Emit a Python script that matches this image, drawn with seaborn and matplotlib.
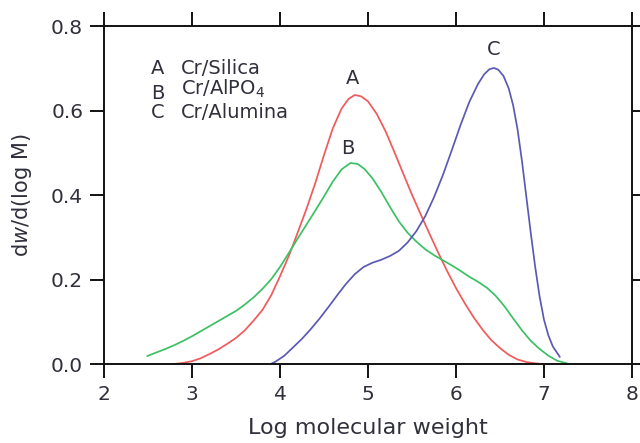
import matplotlib
matplotlib.use("Agg")
import matplotlib.pyplot as plt
import seaborn as sns
import pandas as pd

# ---- data ----
x_a = [2.78, 2.9, 3.0, 3.1, 3.2, 3.3, 3.4, 3.5, 3.6, 3.7, 3.8, 3.9, 4.0, 4.1, 4.15,
       4.2, 4.3, 4.4, 4.5, 4.6, 4.7, 4.78, 4.85, 4.92, 5.0, 5.1, 5.2, 5.3, 5.4, 5.5,
       5.6, 5.7, 5.8, 5.9, 6.0, 6.1, 6.2, 6.3, 6.4, 6.5, 6.6, 6.7, 6.8, 6.9, 7.0]
y_a = [0.0, 0.003, 0.007, 0.014, 0.024, 0.035, 0.048, 0.062, 0.08, 0.103, 0.128,
       0.163, 0.208, 0.256, 0.283, 0.311, 0.367, 0.428, 0.495, 0.558, 0.605, 0.628,
       0.637, 0.634, 0.622, 0.592, 0.551, 0.502, 0.451, 0.401, 0.354, 0.308, 0.263,
       0.22, 0.18, 0.144, 0.111, 0.082, 0.057, 0.038, 0.022, 0.011, 0.005, 0.002, 0.0]

x_b = [2.49, 2.6, 2.7, 2.8, 2.9, 3.0, 3.1, 3.2, 3.3, 3.4, 3.5, 3.6, 3.7, 3.8, 3.9,
       4.0, 4.1, 4.2, 4.3, 4.4, 4.5, 4.6, 4.7, 4.8, 4.88, 4.96, 5.05, 5.15, 5.25,
       5.35, 5.45, 5.55, 5.65, 5.75, 5.85, 5.95, 6.05, 6.15, 6.25, 6.35, 6.45, 6.55,
       6.65, 6.75, 6.85, 6.95, 7.05, 7.15, 7.26]
y_b = [0.019, 0.028, 0.036, 0.045, 0.055, 0.066, 0.078, 0.09, 0.102, 0.114, 0.126,
       0.141, 0.158, 0.178, 0.201, 0.23, 0.263, 0.297, 0.33, 0.363, 0.397, 0.432,
       0.461, 0.476, 0.474, 0.462, 0.44, 0.408, 0.372, 0.338, 0.311, 0.29, 0.272, 0.258,
       0.246, 0.234, 0.221, 0.207, 0.195, 0.181, 0.162, 0.137, 0.108, 0.08, 0.055,
       0.036, 0.02, 0.008, 0.002]

x_c = [3.89, 3.95, 4.05, 4.15, 4.25, 4.35, 4.45, 4.55, 4.65, 4.75, 4.85, 4.95, 5.05,
       5.15, 5.25, 5.35, 5.45, 5.55, 5.65, 5.75, 5.85, 5.95, 6.05, 6.15, 6.25, 6.32,
       6.38, 6.43, 6.48, 6.54, 6.6, 6.65, 6.7, 6.75, 6.8, 6.85, 6.9, 6.95, 7.0, 7.05,
       7.1, 7.18]
y_c = [0.0, 0.006, 0.02, 0.04, 0.06, 0.083, 0.108, 0.135, 0.163, 0.19, 0.213, 0.23,
       0.24, 0.247, 0.256, 0.268, 0.288, 0.315, 0.35, 0.395, 0.447, 0.505, 0.565, 0.62,
       0.663, 0.686, 0.698, 0.701, 0.697, 0.682, 0.652, 0.612, 0.555, 0.48, 0.395,
       0.31, 0.23, 0.16, 0.105, 0.068, 0.042, 0.017]

series_keys = ["A", "B", "C"]
series_names = ["Cr/Silica", "Cr/AlPO$_4$", "Cr/Alumina"]
series_colors = ["#f05a5a", "#3cc064", "#5a5ab4"]
peak_labels = [("A", 4.82, 0.675), ("B", 4.77, 0.51), ("C", 6.43, 0.745)]

x_ticks = [2, 3, 4, 5, 6, 7, 8]
y_ticks = [0.0, 0.2, 0.4, 0.6, 0.8]

# ---- build frame ----
frames = []
for key, xs, ys in zip(series_keys, [x_a, x_b, x_c], [y_a, y_b, y_c]):
    frames.append(pd.DataFrame({"x": xs, "y": ys, "series": key}))
df = pd.concat(frames, ignore_index=True)

sns.set_style("ticks")
plt.rcParams["font.family"] = ["DejaVu Sans"]
plt.rcParams["mathtext.fontset"] = "custom"
plt.rcParams["mathtext.rm"] = "DejaVu Sans"
plt.rcParams["mathtext.it"] = "DejaVu Sans:italic"

txt_color = "#30303c"
fig = plt.figure(figsize=(6.4, 4.43), dpi=100)
ax = fig.add_axes([0.1625, 0.178, 0.825, 0.763])

sns.lineplot(data=df, x="x", y="y", hue="series", palette=dict(zip(series_keys, series_colors)),
             sort=False, estimator=None, linewidth=1.25, legend=False, ax=ax)

ax.set_xlim(2, 8)
ax.set_ylim(0, 0.8)
ax.set_xticks(x_ticks)
ax.set_yticks(y_ticks)
ax.set_yticklabels([f"{v:.1f}" for v in y_ticks])
for s in ax.spines.values():
    s.set_visible(True)
    s.set_linewidth(1.4)
    s.set_color("#111111")
ax.tick_params(axis="both", which="both", direction="out", length=10, width=1.4,
               top=True, right=True, labelsize=14.5, labelcolor=txt_color, color="#111111", pad=5)
ax.set_xlabel("Log molecular weight", fontsize=16, color=txt_color, labelpad=10)
ax.set_ylabel(r"d$\mathit{w}$/d(log M)", fontsize=15, color=txt_color, labelpad=12)

# legend-like text block
leg_y = [0.70, 0.652, 0.595]
for key, name, yy in zip(series_keys, series_names, leg_y):
    dy = -0.012 if key == "B" else 0
    ax.text(2.61, yy + dy, key, fontsize=14, color=txt_color, ha="center", va="center")
    ax.text(2.87, yy, name, fontsize=14, color=txt_color, ha="left", va="center")

for lab, lx, ly in peak_labels:
    ax.text(lx, ly, lab, fontsize=14, color=txt_color, ha="center", va="center")

fig.savefig("out.png", dpi=100)
